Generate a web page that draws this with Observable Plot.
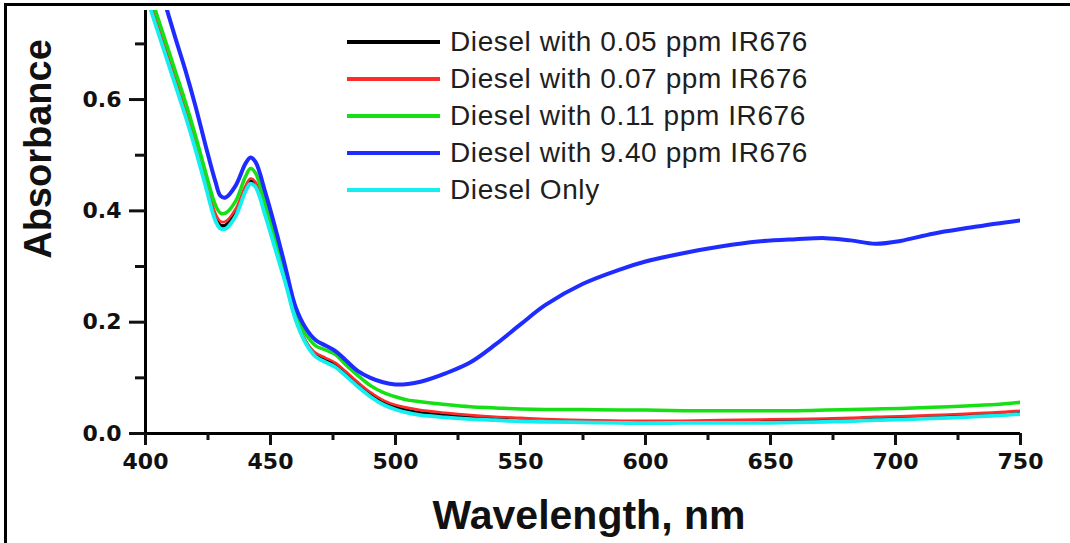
<!DOCTYPE html>
<html><head><meta charset="utf-8">
<script src="https://cdn.jsdelivr.net/npm/d3@7"></script>
<script src="https://cdn.jsdelivr.net/npm/@observablehq/plot@0.6"></script>
<style>
html,body{margin:0;padding:0;background:#fff;}
#wrap{position:relative;width:1070px;height:543px;overflow:hidden;}
#frame{position:absolute;left:4px;top:3px;right:-10px;bottom:-10px;border-top:3px solid #000;border-left:3px solid #000;pointer-events:none;}
#legend{position:absolute;left:347px;top:24px;font-family:"Liberation Sans",Arial,sans-serif;font-size:28px;color:#1e1e1e;letter-spacing:0.6px;}
.row{display:flex;align-items:center;height:36.8px;white-space:nowrap;}
.sw{width:93px;height:4px;margin-right:10px;flex:none;}
</style></head><body>
<div id="wrap"><div id="chart"></div><div id="legend"></div><div id="frame"></div></div>
<script>
const wavelengths = [400,404,408,412,416,420,424,428,430,432,436,440,442,444,448,452,456,460,464,468,472,476,480,485,490,495,500,505,510,520,530,540,550,560,575,590,600,615,630,645,660,672,682,692,702,715,730,740,750];

const seriesNames = ["Diesel with 0.05 ppm IR676","Diesel with 0.07 ppm IR676","Diesel with 0.11 ppm IR676","Diesel with 9.40 ppm IR676","Diesel Only"];
const seriesColors = ["#000000","#ff2a2a","#14e014","#1f2cff","#14eeee"];

const ppm005 = [0.795,0.74,0.685,0.63,0.575,0.515,0.45,0.388,0.374,0.374,0.396,0.44,0.453,0.447,0.395,0.335,0.275,0.207,0.165,0.141,0.132,0.123,0.108,0.088,0.070,0.056,0.047,0.041,0.037,0.033,0.029,0.027,0.025,0.023,0.022,0.021,0.021,0.021,0.021,0.022,0.023,0.024,0.025,0.027,0.028,0.030,0.033,0.035,0.038];
const ppm007 = [0.80,0.745,0.69,0.635,0.58,0.52,0.455,0.395,0.381,0.381,0.403,0.445,0.458,0.452,0.40,0.34,0.28,0.21,0.167,0.145,0.136,0.127,0.112,0.092,0.074,0.060,0.051,0.046,0.042,0.037,0.033,0.030,0.028,0.026,0.024,0.023,0.023,0.023,0.024,0.025,0.026,0.027,0.028,0.030,0.031,0.033,0.036,0.038,0.041];
const ppm011 = [0.815,0.76,0.705,0.65,0.595,0.535,0.47,0.41,0.396,0.396,0.417,0.462,0.476,0.468,0.41,0.35,0.285,0.215,0.179,0.158,0.150,0.142,0.124,0.104,0.086,0.074,0.066,0.060,0.057,0.052,0.048,0.046,0.044,0.043,0.043,0.042,0.042,0.041,0.041,0.041,0.041,0.042,0.043,0.044,0.045,0.047,0.050,0.052,0.056];
const ppm940 = [0.89,0.83,0.77,0.71,0.652,0.588,0.518,0.452,0.427,0.424,0.445,0.485,0.496,0.488,0.432,0.368,0.298,0.228,0.19,0.168,0.158,0.148,0.132,0.112,0.100,0.092,0.088,0.089,0.093,0.108,0.128,0.160,0.196,0.231,0.269,0.295,0.309,0.324,0.336,0.345,0.349,0.351,0.347,0.341,0.346,0.359,0.370,0.377,0.383];
const dieselOnly = [0.79,0.735,0.68,0.625,0.57,0.51,0.445,0.382,0.368,0.368,0.39,0.435,0.449,0.443,0.39,0.33,0.27,0.205,0.163,0.138,0.128,0.119,0.104,0.084,0.066,0.052,0.043,0.037,0.033,0.029,0.026,0.024,0.022,0.021,0.020,0.019,0.0185,0.019,0.019,0.019,0.020,0.021,0.022,0.024,0.025,0.027,0.030,0.032,0.035];

const xMajor = [400,450,500,550,600,650,700,750];
const xMinor = [425,475,525,575,625,675,725];
const yMajor = [0,0.2,0.4,0.6];
const yMinor = [0.1,0.3,0.5,0.7];
const xLabel = "Wavelength, nm";
const yLabel = "Absorbance";

const allSeries = [ppm005, ppm007, ppm011, ppm940, dieselOnly];
const widths = [3.5, 2.6, 3.5, 4, 3.8];
const rows = allSeries.map((vals, i) => wavelengths.map((w, j) => ({wl: w, a: vals[j], s: seriesNames[i]})));

const tickFont = {fontFamily: "DejaVu Sans, sans-serif", fontWeight: "bold", fontSize: 22};

const chart = Plot.plot({
  width: 1070, height: 543,
  marginLeft: 145, marginRight: 50, marginTop: 10, marginBottom: 110,
  x: {domain: [400, 750]},
  y: {domain: [0, 0.76]},
  style: {background: "transparent", color: "#111"},
  marks: [
    ...rows.map((r, i) => Plot.line(r, {x: "wl", y: "a", stroke: seriesColors[i], strokeWidth: widths[i], curve: "catmull-rom", clip: true})),
    Plot.ruleX([400], {stroke: "#000", strokeWidth: 3}),
    Plot.ruleY([0], {stroke: "#000", strokeWidth: 3}),
    Plot.axisX({ticks: xMajor, tickSize: 12, tickPadding: 8, strokeWidth: 3, label: null, ...tickFont, fill: "#111"}),
    Plot.axisX({ticks: xMinor, tickSize: 7, strokeWidth: 3, label: null, tickFormat: () => ""}),
    Plot.axisY({ticks: yMajor, tickSize: 16, tickPadding: 8, strokeWidth: 3, label: null, tickFormat: d3.format(".1f"), ...tickFont, fill: "#111"}),
    Plot.axisY({ticks: yMinor, tickSize: 10, strokeWidth: 3, label: null, tickFormat: () => ""}),
    Plot.text([xLabel], {frameAnchor: "bottom", text: d => d, dy: 82, dx: 6, fontSize: 41, fontWeight: "bold", fontFamily: "Liberation Sans, Arial, sans-serif", fill: "#111", lineAnchor: "middle", textAnchor: "middle"}),
    Plot.text([yLabel], {frameAnchor: "left", text: d => d, rotate: -90, dx: -107, dy: -73, fontSize: 38, fontWeight: "bold", fontFamily: "Liberation Sans, Arial, sans-serif", fill: "#111", lineAnchor: "middle", textAnchor: "middle"})
  ]
});
document.getElementById("chart").appendChild(chart);

const legend = document.getElementById("legend");
seriesNames.forEach((name, i) => {
  const row = document.createElement("div");
  row.className = "row";
  const sw = document.createElement("span");
  sw.className = "sw";
  sw.style.background = seriesColors[i];
  const t = document.createElement("span");
  t.textContent = name;
  row.appendChild(sw); row.appendChild(t);
  legend.appendChild(row);
});
</script>
</body></html>
